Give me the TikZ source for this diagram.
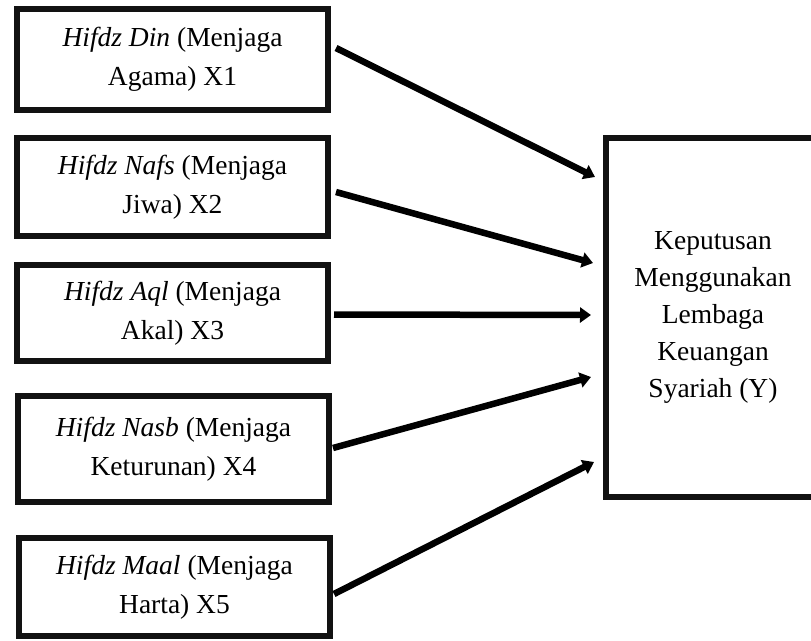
\documentclass[tikz,border=0pt]{standalone}
\usepackage{fontspec}
\setmainfont{Liberation Serif}
\usetikzlibrary{arrows.meta}
\begin{document}
\begin{tikzpicture}[x=1pt,y=-1pt,
  inbox/.style={draw=black!93,line width=6pt,minimum width=311pt,inner sep=0pt,
    align=center,font=\fontsize{27.5}{39}\selectfont},
  outbox/.style={draw=black!93,line width=6pt,minimum width=214pt,minimum height=359pt,
    inner sep=0pt,align=center,font=\fontsize{27.5}{37}\selectfont},
  link/.style={line width=6.5pt,-{Triangle[length=11pt,width=15pt]}}]
\useasboundingbox (0,0) rectangle (811,640);
\fill[white] (0,0) rectangle (811,640);
\node[inbox,minimum height=101pt] (x1) at (172.5,59.5) {\textit{Hifdz Din} (Menjaga\\Agama) X1};
\node[inbox,minimum height=98pt] (x2) at (172.5,187) {\textit{Hifdz Nafs} (Menjaga\\Jiwa) X2};
\node[inbox,minimum height=96pt] (x3) at (172.5,313) {\textit{Hifdz Aql} (Menjaga\\Akal) X3};
\node[inbox,minimum height=106pt] (x4) at (173.5,449) {\textit{Hifdz Nasb} (Menjaga\\Keturunan) X4};
\node[inbox,minimum height=98pt] (x5) at (174.5,587) {\textit{Hifdz Maal} (Menjaga\\Harta) X5};
\node[outbox] (y) at (713,317) {Keputusan\\Menggunakan\\Lembaga\\Keuangan\\Syariah (Y)};
\draw[link] ([xshift=5pt,yshift=11.5pt]x1.east) -- ([xshift=-8pt,yshift=140pt]y.west);
\draw[link] ([xshift=5pt,yshift=-5pt]x2.east) -- ([xshift=-10pt,yshift=54pt]y.west);
\draw[link] ([xshift=3pt,yshift=-1.5pt]x3.east) -- ([xshift=-12pt,yshift=2pt]y.west);
\draw[link] ([xshift=1pt,yshift=1pt]x4.east) -- ([xshift=-12pt,yshift=-60pt]y.west);
\draw[link] ([xshift=1pt,yshift=-7pt]x5.east) -- ([xshift=-9pt,yshift=-145pt]y.west);
\end{tikzpicture}
\end{document}
